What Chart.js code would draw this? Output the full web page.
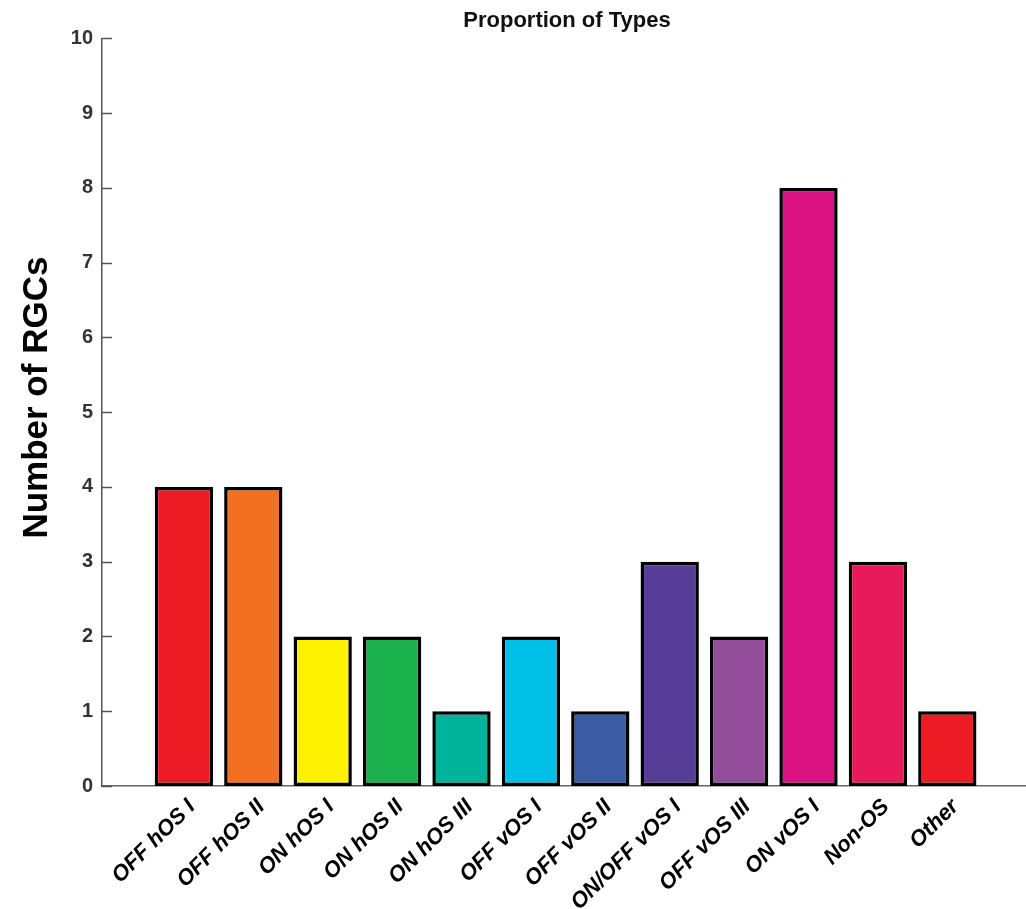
<!DOCTYPE html>
<html>
<head>
<meta charset="utf-8">
<script src="https://cdn.jsdelivr.net/npm/chart.js@4/dist/chart.umd.min.js"></script>
<style>
  html, body { margin: 0; padding: 0; background: #fff; overflow: hidden; }
  #wrap { width: 1026px; height: 909px; overflow: hidden; }
</style>
</head>
<body>
<div id="wrap"><canvas id="myChart" width="1134" height="909"></canvas></div>
<script>
// data
const categories = ['OFF hOS I', 'OFF hOS II', 'ON hOS I', 'ON hOS II', 'ON hOS III', 'OFF vOS I',
  'OFF vOS II', 'ON/OFF vOS I', 'OFF vOS III', 'ON vOS I', 'Non-OS', 'Other'];
const counts = [4, 4, 2, 2, 1, 2, 1, 3, 2, 8, 3, 1];
const barColors = ['#ED1C24', '#F37021', '#FFF200', '#1AB04B', '#00B49C', '#00C0E8',
  '#3B5BA5', '#563D97', '#944D9B', '#DA1180', '#E91A5B', '#ED1C24'];
const yTicks = [0, 1, 2, 3, 4, 5, 6, 7, 8, 9, 10];

const points = counts.map((v, i) => ({ x: i + 1, y: v }));

// ticks drawn inward from the y axis line
const innerTicks = {
  id: 'innerTicks',
  afterDraw(chart) {
    const ctx = chart.ctx;
    const y = chart.scales.y;
    const x0 = chart.chartArea.left;
    ctx.save();
    ctx.strokeStyle = '#555';
    ctx.lineWidth = 1.5;
    yTicks.forEach(t => {
      const py = Math.round(y.getPixelForValue(t)) + 0.5;
      ctx.beginPath();
      ctx.moveTo(x0, py);
      ctx.lineTo(x0 + 10, py);
      ctx.stroke();
    });
    ctx.restore();
  }
};

const canvas = document.getElementById('myChart');
const ctx = canvas.getContext('2d');
new Chart(ctx, {
  type: 'bar',
  data: {
    datasets: [{
      data: points,
      backgroundColor: barColors,
      borderColor: '#000',
      borderWidth: 3.5,
      borderSkipped: false,
      barPercentage: 0.84,
      categoryPercentage: 1
    }]
  },
  options: {
    responsive: false,
    animation: false,
    layout: { padding: { left: 0, right: 0, top: 0, bottom: 0 } },
    plugins: {
      legend: { display: false },
      tooltip: { enabled: false },
      title: {
        display: true,
        text: 'Proportion of Types',
        color: '#111',
        font: { family: 'Liberation Sans', size: 22, weight: 'bold' },
        padding: { top: 8, bottom: 4 }
      }
    },
    scales: {
      x: {
        type: 'linear',
        offset: false,
        min: -0.18,
        max: 14.69,
        afterBuildTicks(scale) {
          scale.ticks = categories.map((c, i) => ({ value: i + 1 }));
        },
        afterFit(scale) { scale.height = 123; },
        grid: { display: false },
        border: { display: true, color: '#666', width: 1.5 },
        ticks: {
          autoSkip: false,
          minRotation: 45,
          maxRotation: 45,
          padding: 0,
          labelOffset: 8,
          color: '#000',
          font: { family: 'Liberation Sans', size: 22, weight: 'bold', style: 'italic' },
          callback: (v) => categories[v - 1]
        }
      },
      y: {
        min: 0,
        max: 10,
        afterBuildTicks(scale) {
          scale.ticks = yTicks.map(v => ({ value: v }));
        },
        afterFit(scale) { scale.width = 102; },
        grid: { display: false },
        border: { display: true, color: '#555', width: 1.5 },
        ticks: {
          padding: 1,
          color: '#333',
          font: { family: 'Liberation Sans', size: 20, weight: 'bold' }
        },
        title: {
          display: true,
          text: '   Number of RGCs',
          color: '#000',
          padding: { top: 16, bottom: 0 },
          font: { family: 'Liberation Sans', size: 35, weight: 'bold' }
        }
      }
    }
  },
  plugins: [innerTicks]
});
</script>
</body>
</html>
